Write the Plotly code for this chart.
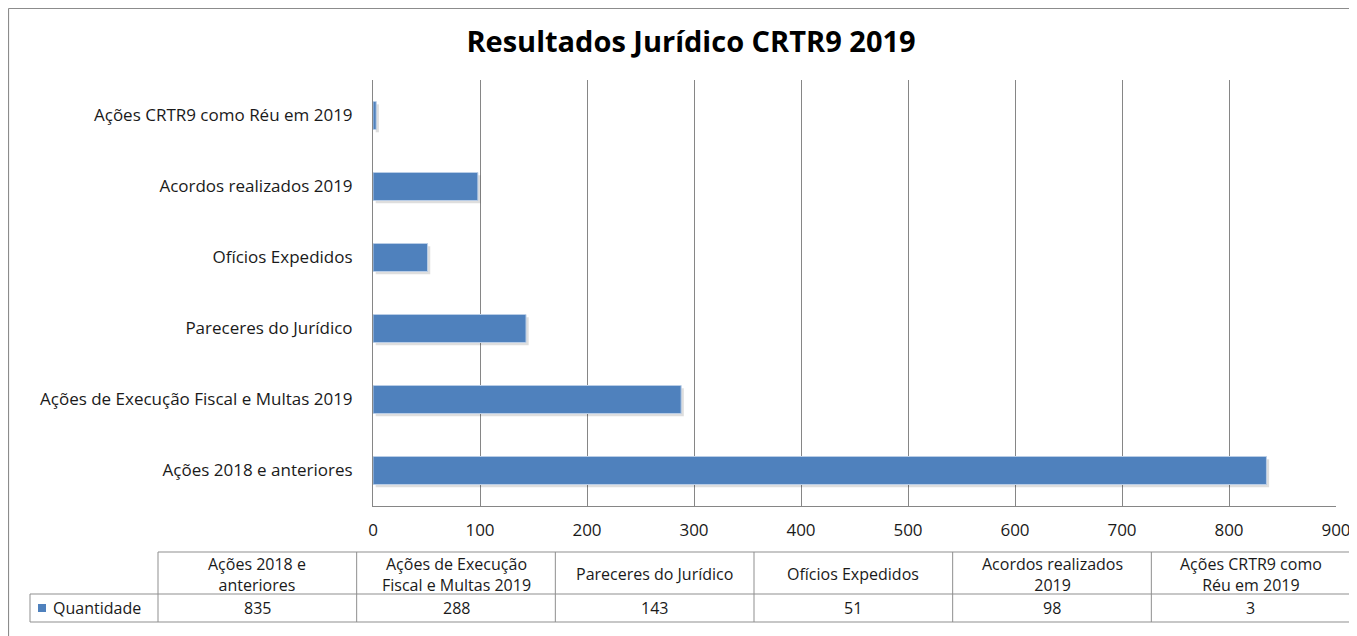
import plotly.graph_objects as go

# ---------------- data ----------------
categories = [
    "Ações 2018 e anteriores",
    "Ações de Execução Fiscal e Multas 2019",
    "Pareceres do Jurídico",
    "Ofícios Expedidos",
    "Acordos realizados 2019",
    "Ações CRTR9 como Réu em 2019",
]
table_headers = [
    "Ações 2018 e<br>anteriores",
    "Ações de Execução<br>Fiscal e Multas 2019",
    "Pareceres do Jurídico",
    "Ofícios Expedidos",
    "Acordos realizados<br>2019",
    "Ações CRTR9 como<br>Réu em 2019",
]
quantidade = [835, 288, 143, 51, 98, 3]
series_name = "Quantidade"
x_ticks = [0, 100, 200, 300, 400, 500, 600, 700, 800, 900]
title_text = "Resultados Jurídico CRTR9 2019"

# ---------------- layout geometry (page pixels; page body has 8px margin) ----------------
OFF = 8
W, H = 1357 - OFF, 636 - OFF
PL, PR, PT, PB = 373, 1336, 80, 506
FONT = "Open Sans"
BAR = "#4F81BD"
GRID = "#868686"
TXT = "#1a1a1a"
BW = 0.394          # bar thickness in category units
SH = 0.04           # shadow vertical shift (category units)


def xp(px):
    return (px - PL) / (PR - PL)


def yp(py):
    return (PB - py) / (PB - PT)


fig = go.Figure()
# soft shadow
fig.add_trace(go.Bar(
    y=categories, x=quantidade, orientation="h", base=2.5,
    width=BW, offset=-BW / 2 - SH,
    marker=dict(color="rgba(0,0,0,0.13)", line=dict(width=0)),
    showlegend=False, hoverinfo="skip",
))
fig.add_trace(go.Bar(
    y=categories, x=quantidade, orientation="h", name=series_name,
    width=BW, offset=-BW / 2,
    marker=dict(color=BAR, line=dict(width=1, color="#b9cde6")),
    showlegend=False, hoverinfo="x+y",
))

shapes = []
annotations = []

# outer chart border (left and top visible)
shapes.append(dict(type="line", xref="paper", yref="paper", x0=xp(8.5), x1=xp(1400),
                   y0=yp(8.5), y1=yp(8.5), line=dict(color="#8c8c8c", width=1.2)))
shapes.append(dict(type="line", xref="paper", yref="paper", x0=xp(8.5), x1=xp(8.5),
                   y0=yp(8.5), y1=yp(700), line=dict(color="#8c8c8c", width=1.2)))

# data table
TL, TR = 158, 1350
LEG_L = 30
HY0, HY1, DY1 = 552, 594, 622
ncol = len(table_headers)
colw = (TR - TL) / ncol
tline = dict(color="#8f8f8f", width=1)
TFS = 16


def hline(x0, x1, y):
    shapes.append(dict(type="line", xref="paper", yref="paper", x0=xp(x0), x1=xp(x1),
                       y0=yp(y), y1=yp(y), line=tline))


def vline(x, y0, y1):
    shapes.append(dict(type="line", xref="paper", yref="paper", x0=xp(x), x1=xp(x),
                       y0=yp(y0), y1=yp(y1), line=tline))


hline(TL, TR, HY0)
hline(LEG_L, TR, HY1)
hline(LEG_L, TR, DY1)
vline(LEG_L, HY1, DY1)
for i in range(ncol + 1):
    vline(TL + i * colw, HY0, DY1)

for i, (h, v) in enumerate(zip(table_headers, quantidade)):
    cx = TL + (i + 0.5) * colw
    annotations.append(dict(xref="paper", yref="paper", x=xp(cx), y=yp((HY0 + HY1) / 2 + 1),
                            text=h, showarrow=False, xanchor="center", yanchor="middle",
                            font=dict(family=FONT, size=TFS, color=TXT)))
    annotations.append(dict(xref="paper", yref="paper", x=xp(cx), y=yp((HY1 + DY1) / 2),
                            text=str(v), showarrow=False, xanchor="center", yanchor="middle",
                            font=dict(family=FONT, size=TFS, color=TXT)))

# legend key in table
shapes.append(dict(type="rect", xref="paper", yref="paper", x0=xp(38), x1=xp(46),
                   y0=yp(604), y1=yp(612), fillcolor=BAR, line=dict(width=0)))
annotations.append(dict(xref="paper", yref="paper", x=xp(51), y=yp((HY1 + DY1) / 2),
                        text=series_name, showarrow=False, xanchor="left", yanchor="middle",
                        font=dict(family=FONT, size=TFS, color=TXT)))

fig.update_layout(
    width=W, height=H,
    margin=dict(l=PL - OFF, r=W - (PR - OFF), t=PT - OFF, b=H - (PB - OFF), autoexpand=False),
    paper_bgcolor="white", plot_bgcolor="white",
    barmode="overlay",
    title=dict(text="<b>" + title_text + "</b>", x=(691 - OFF) / W,
               xanchor="center", y=1 - (42 - OFF) / H, yanchor="middle",
               font=dict(family=FONT, size=29, color="#000000")),
    xaxis=dict(range=[0, 900], tickvals=x_ticks, ticktext=[str(t) for t in x_ticks],
               showgrid=True, gridcolor=GRID, gridwidth=1,
               showline=True, linecolor=GRID, linewidth=1, zeroline=False,
               ticks="", ticklabelstandoff=9,
               tickfont=dict(family=FONT, size=17, color=TXT)),
    yaxis=dict(type="category", categoryorder="array", categoryarray=categories,
               showline=True, linecolor=GRID, linewidth=1, showgrid=False,
               ticks="", ticklabelstandoff=16,
               tickfont=dict(family=FONT, size=17, color=TXT)),
    shapes=shapes,
    annotations=annotations,
    font=dict(family=FONT),
)

fig.write_html("out.html")
